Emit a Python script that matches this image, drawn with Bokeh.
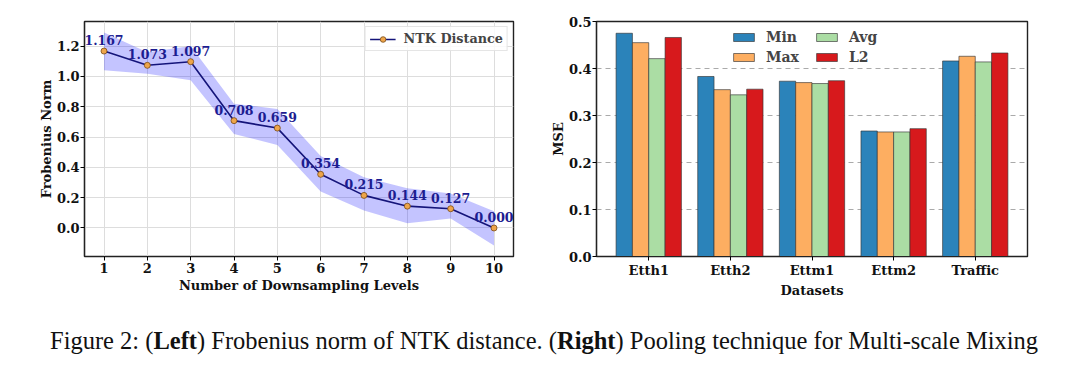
from bokeh.plotting import figure
from bokeh.models import (FactorRange, Legend, LegendItem, Div, FixedTicker,
                          PrintfTickFormatter, ColumnDataSource, Spacer)
from bokeh.transform import dodge
from bokeh.layouts import row, column
from bokeh.core.properties import value
from bokeh.embed import file_html
from bokeh.resources import INLINE

# ---------------- data ----------------
levels = [1, 2, 3, 4, 5, 6, 7, 8, 9, 10]
ntk_distance = [1.167, 1.073, 1.097, 0.708, 0.659, 0.354, 0.215, 0.144, 0.127, 0.000]
ntk_upper = [1.290, 1.160, 1.200, 0.820, 0.785, 0.475, 0.335, 0.262, 0.228, 0.110]
ntk_lower = [1.040, 1.017, 0.975, 0.620, 0.548, 0.241, 0.115, 0.032, 0.062, -0.116]
ntk_labels = ["%.3f" % v for v in ntk_distance]

datasets = ["Etth1", "Etth2", "Ettm1", "Ettm2", "Traffic"]
mse_min = [0.475, 0.383, 0.373, 0.267, 0.416]
mse_max = [0.455, 0.355, 0.370, 0.265, 0.426]
mse_avg = [0.421, 0.344, 0.368, 0.265, 0.414]
mse_l2 = [0.466, 0.356, 0.374, 0.272, 0.433]

FONT = "DejaVu Serif"
BL, BR, BT, BB = 56, 27, 21, 39

# ---------------- left chart ----------------
p1 = figure(width=BL + 429 + BR, height=BT + 240 + BB, x_range=(0.55, 10.45), y_range=(-0.188, 1.362),
            output_backend="svg", toolbar_location=None,
            min_border_left=BL, min_border_right=BR, min_border_top=BT, min_border_bottom=BB)
p1.varea(x=levels, y1=ntk_lower, y2=ntk_upper, fill_color="#0000ff", fill_alpha=0.23)
ln = p1.line(levels, ntk_distance, line_color="#14147a", line_width=1.6)
sc = p1.scatter(levels, ntk_distance, size=6, fill_color="#eea54a", line_color="#7a4a14", line_width=0.8)
p1.text(x=levels, y=ntk_distance, text=ntk_labels, text_align="center", text_baseline="bottom",
        y_offset=-6, text_font=value(FONT), text_font_style="bold", text_font_size="12.5px",
        text_color="#1c1c90")

p1.xaxis.ticker = FixedTicker(ticks=levels)
p1.yaxis.ticker = FixedTicker(ticks=[0.0, 0.2, 0.4, 0.6, 0.8, 1.0, 1.2])
p1.yaxis.formatter = PrintfTickFormatter(format="%.1f")
p1.xaxis.axis_label = "Number of Downsampling Levels"
p1.yaxis.axis_label = "Frobenius Norm"

leg1 = Legend(items=[LegendItem(label="NTK Distance", renderers=[ln, sc])],
              location="top_right", margin=5, padding=4, spacing=0,
              label_text_font=FONT, label_text_font_style="bold", label_text_font_size="12.8px",
              glyph_width=26, glyph_height=14, label_standoff=8, border_line_color="#cccccc",
              border_line_width=1.2, background_fill_alpha=0.85)
p1.add_layout(leg1)
p1.xgrid.grid_line_color = "#dddddd"
p1.ygrid.grid_line_color = "#dddddd"

# ---------------- right chart ----------------
src = ColumnDataSource(dict(ds=datasets, mn=mse_min, mx=mse_max, av=mse_avg, l2=mse_l2))
xr = FactorRange(factors=datasets, range_padding=0.056)
p2 = figure(width=BL + 431 + BR, height=BT + 240 + BB, x_range=xr, y_range=(0, 0.5),
            output_backend="svg", toolbar_location=None,
            min_border_left=BL, min_border_right=BR, min_border_top=BT, min_border_bottom=BB)
series = [("Min", "mn", "#2b83ba", -0.3), ("Max", "mx", "#fdae61", -0.1),
          ("Avg", "av", "#abdda4", 0.1), ("L2", "l2", "#d7191c", 0.3)]
rends = {}
for name, col, color, off in series:
    rends[name] = p2.vbar(x=dodge("ds", off, range=xr), top=col, width=0.2, source=src,
                          fill_color=color, line_color="#333333", line_width=0.8, line_alpha=0.8)
leg2 = Legend(items=[LegendItem(label=n, renderers=[rends[n]]) for n in ["Min", "Max", "Avg", "L2"]],
              location="top_center", ncols=2, margin=7, padding=2, spacing=3,
              label_text_font=FONT, label_text_font_style="bold", label_text_font_size="14px",
              label_standoff=10, label_width=44, label_height=17,
              glyph_width=26, glyph_height=10, border_line_color=None, background_fill_alpha=0)
p2.add_layout(leg2)
p2.yaxis.ticker = FixedTicker(ticks=[0.0, 0.1, 0.2, 0.3, 0.4, 0.5])
p2.yaxis.formatter = PrintfTickFormatter(format="%.1f")
p2.xaxis.axis_label = "Datasets"
p2.yaxis.axis_label = "MSE"
p2.xgrid.grid_line_color = None
p2.ygrid.grid_line_color = "#aaaaaa"
p2.ygrid.grid_line_dash = "5 4"

for p in (p1, p2):
    p.outline_line_color = "#222222"
    p.outline_line_width = 1.4
    p.outline_line_alpha = 1
    for ax in (p.xaxis, p.yaxis):
        ax.axis_line_color = "#222222"
        ax.axis_line_width = 1.2
        ax.major_tick_in = 0
        ax.major_tick_out = 4
        ax.minor_tick_line_color = None
        ax.major_label_text_font = FONT
        ax.major_label_text_font_style = "bold"
        ax.major_label_text_font_size = "13px"
        ax.major_label_text_color = "#111111"
        ax.axis_label_text_font = FONT
        ax.axis_label_text_font_style = "bold"
        ax.axis_label_text_font_size = "13px"
        ax.axis_label_text_color = "#111111"
        ax.major_label_standoff = 2
        ax.axis_label_standoff = 2
    p.yaxis.major_label_standoff = 1
    p.yaxis.axis_label_standoff = 0

caption = Div(text='Figure 2: (<b>Left</b>) Frobenius norm of NTK distance. (<b>Right</b>) '
                   'Pooling technique for Multi-scale Mixing',
              width=1075, height=70,
              styles={"font-family": "Liberation Serif", "font-size": "24.5px",
                      "color": "#111111", "padding-left": "45px", "padding-top": "18px",
                      "white-space": "nowrap"})

layout = column(row(Spacer(width=28, height=10), p1, p2), caption)
open("out.html", "w").write(file_html(layout, INLINE))
